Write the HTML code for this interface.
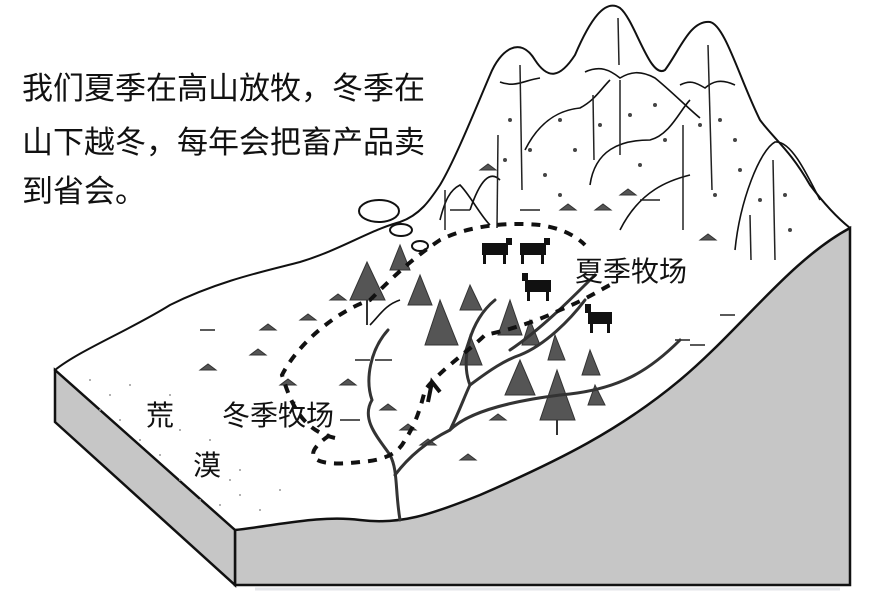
<!DOCTYPE html>
<html><head><meta charset="utf-8"><style>
body{margin:0;background:#fff;width:874px;height:604px;overflow:hidden}
svg{display:block}
text{font-family:"Liberation Sans","Noto Sans CJK SC",sans-serif;fill:#111}
</style></head><body>
<svg width="874" height="604" viewBox="0 0 874 604">
<path d="M55,370 C80,350 130,330 170,305 C220,280 270,270 300,262 C340,250 370,230 400,222 C420,215 430,200 440,185 C455,160 475,110 490,75 C500,50 520,35 535,60 C548,80 560,78 575,55 C590,20 605,-2 620,8 C635,20 650,80 665,70 C680,50 690,20 710,22 C725,25 740,80 760,120 C775,140 790,150 810,185 C825,205 840,220 850,228 L850,585 L235,585 L235,530 Z" fill="#fff" stroke="#111" stroke-width="2"/>
<path d="M235,530 C280,525 320,515 360,520 C400,525 430,515 480,495 C560,460 620,430 680,380 C740,330 790,260 850,228 L850,585 L235,585 Z" fill="#c6c6c6" stroke="#111" stroke-width="2.5"/>
<path d="M55,370 L235,530 L235,585 L55,422 Z" fill="#c6c6c6" stroke="#111" stroke-width="2.5"/>
<line x1="255" y1="589" x2="840" y2="589" stroke="#e4e6ea" stroke-width="3"/>
<g fill="none" stroke="#111" stroke-width="1.6">
<path d="M500,82 C515,88 525,80 540,78"/>
<path d="M585,72 C600,65 610,70 620,78 C630,72 640,70 655,78 C670,90 690,110 700,118"/>
<path d="M680,85 C690,80 695,82 705,88 C712,82 720,78 735,85"/>
<path d="M525,150 C540,120 560,110 580,108 C595,100 600,90 610,80"/>
<path d="M590,185 C595,150 620,140 650,140 C670,135 680,110 690,100"/>
<path d="M620,230 C640,190 670,180 690,175"/>
<path d="M735,250 C740,200 760,150 775,142 C790,140 805,170 820,200"/>
<path d="M440,220 C445,200 450,190 460,185 C470,195 480,215 490,225"/>
<path d="M470,210 C480,180 490,170 500,180"/>
<path d="M370,325 C380,315 385,305 400,300"/>
</g>
<g stroke="#222" stroke-width="1.5">
<line x1="520" y1="65" x2="522" y2="190"/><line x1="618" y1="18" x2="619" y2="65"/><line x1="620" y1="80" x2="620" y2="155"/>
<line x1="708" y1="45" x2="712" y2="190"/><line x1="593" y1="95" x2="594" y2="160"/><line x1="498" y1="135" x2="497" y2="228"/>
<line x1="683" y1="125" x2="683" y2="230"/><line x1="773" y1="160" x2="775" y2="260"/><line x1="750" y1="215" x2="751" y2="260"/>
<line x1="445" y1="190" x2="445" y2="230"/>
</g>
<g fill="#444">
<circle cx="510" cy="120" r="2"/><circle cx="530" cy="150" r="2"/><circle cx="505" cy="160" r="2"/><circle cx="560" cy="120" r="2"/><circle cx="575" cy="150" r="2"/><circle cx="600" cy="125" r="2"/><circle cx="630" cy="115" r="2"/><circle cx="655" cy="105" r="2"/><circle cx="665" cy="140" r="2"/><circle cx="700" cy="125" r="2"/><circle cx="720" cy="120" r="2"/><circle cx="735" cy="140" r="2"/><circle cx="740" cy="170" r="2"/><circle cx="760" cy="200" r="2"/><circle cx="785" cy="195" r="2"/><circle cx="790" cy="230" r="2"/><circle cx="545" cy="175" r="2"/><circle cx="640" cy="165" r="2"/><circle cx="560" cy="195" r="2"/><circle cx="715" cy="195" r="2"/>
</g>
<g fill="#555" stroke="#333" stroke-width="1">
<path d="M480,170 l8,-6 l8,6 z"/><path d="M595,210 l8,-6 l8,6 z"/><path d="M620,195 l8,-6 l8,6 z"/><path d="M700,240 l8,-6 l8,6 z"/><path d="M560,210 l8,-6 l8,6 z"/><path d="M250,355 l8,-6 l8,6 z"/><path d="M200,370 l8,-6 l8,6 z"/><path d="M340,385 l8,-6 l8,6 z"/><path d="M380,410 l8,-6 l8,6 z"/><path d="M420,445 l8,-6 l8,6 z"/><path d="M460,460 l8,-6 l8,6 z"/><path d="M260,330 l8,-6 l8,6 z"/><path d="M300,320 l8,-6 l8,6 z"/><path d="M400,430 l8,-6 l8,6 z"/><path d="M490,420 l8,-6 l8,6 z"/><path d="M330,300 l8,-6 l8,6 z"/><path d="M280,385 l8,-6 l8,6 z"/>
</g>
<g stroke="#222" stroke-width="1.5">
<line x1="450" y1="210" x2="470" y2="210"/><line x1="520" y1="210" x2="540" y2="210"/><line x1="640" y1="200" x2="660" y2="200"/><line x1="675" y1="340" x2="690" y2="340"/><line x1="200" y1="330" x2="215" y2="330"/><line x1="375" y1="360" x2="392" y2="360"/><line x1="340" y1="420" x2="360" y2="420"/><line x1="690" y1="345" x2="705" y2="345"/><line x1="720" y1="315" x2="735" y2="315"/><line x1="355" y1="360" x2="370" y2="360"/>
</g>
<g fill="#999">
<circle cx="90" cy="380" r="1"/><circle cx="110" cy="395" r="1"/><circle cx="130" cy="385" r="1"/><circle cx="100" cy="410" r="1"/><circle cx="140" cy="440" r="1"/><circle cx="160" cy="455" r="1"/><circle cx="180" cy="480" r="1"/><circle cx="200" cy="500" r="1"/><circle cx="220" cy="505" r="1"/><circle cx="240" cy="495" r="1"/><circle cx="260" cy="510" r="1"/><circle cx="180" cy="430" r="1"/><circle cx="210" cy="440" r="1"/><circle cx="240" cy="470" r="1"/><circle cx="120" cy="420" r="1"/><circle cx="170" cy="395" r="1"/><circle cx="280" cy="490" r="1"/><circle cx="230" cy="480" r="1"/>
</g>
<g fill="#fff" stroke="#111" stroke-width="2">
<ellipse cx="379" cy="211" rx="20" ry="11"/><ellipse cx="401" cy="230" rx="11" ry="6"/><ellipse cx="420" cy="246" rx="8" ry="5"/>
</g>
<g fill="#555" stroke="#333" stroke-width="1">
<path d="M367,262 L350,300 L385,300 Z"/><line x1="367" y1="300" x2="367" y2="325" stroke-width="2"/>
<path d="M420,275 L408,305 L432,305 Z"/><path d="M440,300 L425,345 L458,345 Z"/><path d="M470,285 L460,310 L482,310 Z"/>
<path d="M510,300 L498,335 L522,335 Z"/><path d="M470,335 L460,365 L482,365 Z"/><path d="M520,360 L505,395 L535,395 Z"/>
<path d="M557,370 L540,420 L575,420 Z"/><line x1="557" y1="420" x2="557" y2="435" stroke-width="2"/>
<path d="M555,335 L548,360 L565,360 Z"/><path d="M590,350 L582,375 L600,375 Z"/><path d="M595,385 L588,405 L605,405 Z"/>
<path d="M530,320 L522,345 L540,345 Z"/><path d="M400,245 L390,270 L410,270 Z"/>
</g>
<g fill="#111">
<rect x="482" y="243" width="26" height="12"/><rect x="483" y="255" width="3" height="9"/><rect x="503" y="255" width="3" height="9"/><rect x="506" y="238" width="6" height="7"/>
<rect x="520" y="243" width="26" height="12"/><rect x="521" y="255" width="3" height="9"/><rect x="541" y="255" width="3" height="9"/><rect x="544" y="238" width="6" height="7"/>
<rect x="525" y="280" width="26" height="12"/><rect x="527" y="292" width="3" height="9"/><rect x="546" y="292" width="3" height="9"/><rect x="522" y="273" width="6" height="8"/>
<rect x="588" y="312" width="24" height="12"/><rect x="590" y="324" width="3" height="9"/><rect x="607" y="324" width="3" height="9"/><rect x="585" y="304" width="6" height="9"/>
</g>
<g fill="none" stroke="#333" stroke-width="3" stroke-linecap="round">
<path d="M388,330 C370,350 365,380 372,400 C360,420 380,440 390,455 C398,470 395,490 400,520"/>
<path d="M395,475 C410,455 430,440 450,430 C460,410 465,395 470,385 C490,370 505,360 520,355 C545,345 570,320 585,300"/>
<path d="M450,430 C470,410 520,400 560,395 C620,390 650,370 680,340"/>
<path d="M470,385 C460,360 470,320 495,300"/>
<path d="M510,350 C540,330 570,300 595,275"/>
</g>
<g fill="none" stroke="#111" stroke-width="4" stroke-dasharray="9,8">
<path d="M330,435 C300,455 310,468 360,462 C390,460 400,450 405,440 C415,425 420,410 425,390 C440,370 470,350 485,335 C510,330 540,320 560,310 C585,300 600,290 610,285"/>
<path d="M335,438 C300,430 290,400 282,375 C300,340 340,310 370,300 C390,280 410,260 440,240 C470,225 510,222 540,225 C560,228 575,235 585,245"/>
</g>
<path d="M428,402 L432,382 L440,392" fill="none" stroke="#111" stroke-width="4"/>
<text x="575" y="281" font-size="28">夏季牧场</text>
<text x="222" y="425" font-size="28">冬季牧场</text>
<text x="146" y="425" font-size="28">荒</text>
<text x="193" y="475" font-size="28">漠</text>
<text x="22" y="99" font-size="31">我们夏季在高山放牧，冬季在</text>
<text x="22" y="153" font-size="31">山下越冬，每年会把畜产品卖</text>
<text x="22" y="202" font-size="31">到省会。</text>
</svg>
</body></html>
